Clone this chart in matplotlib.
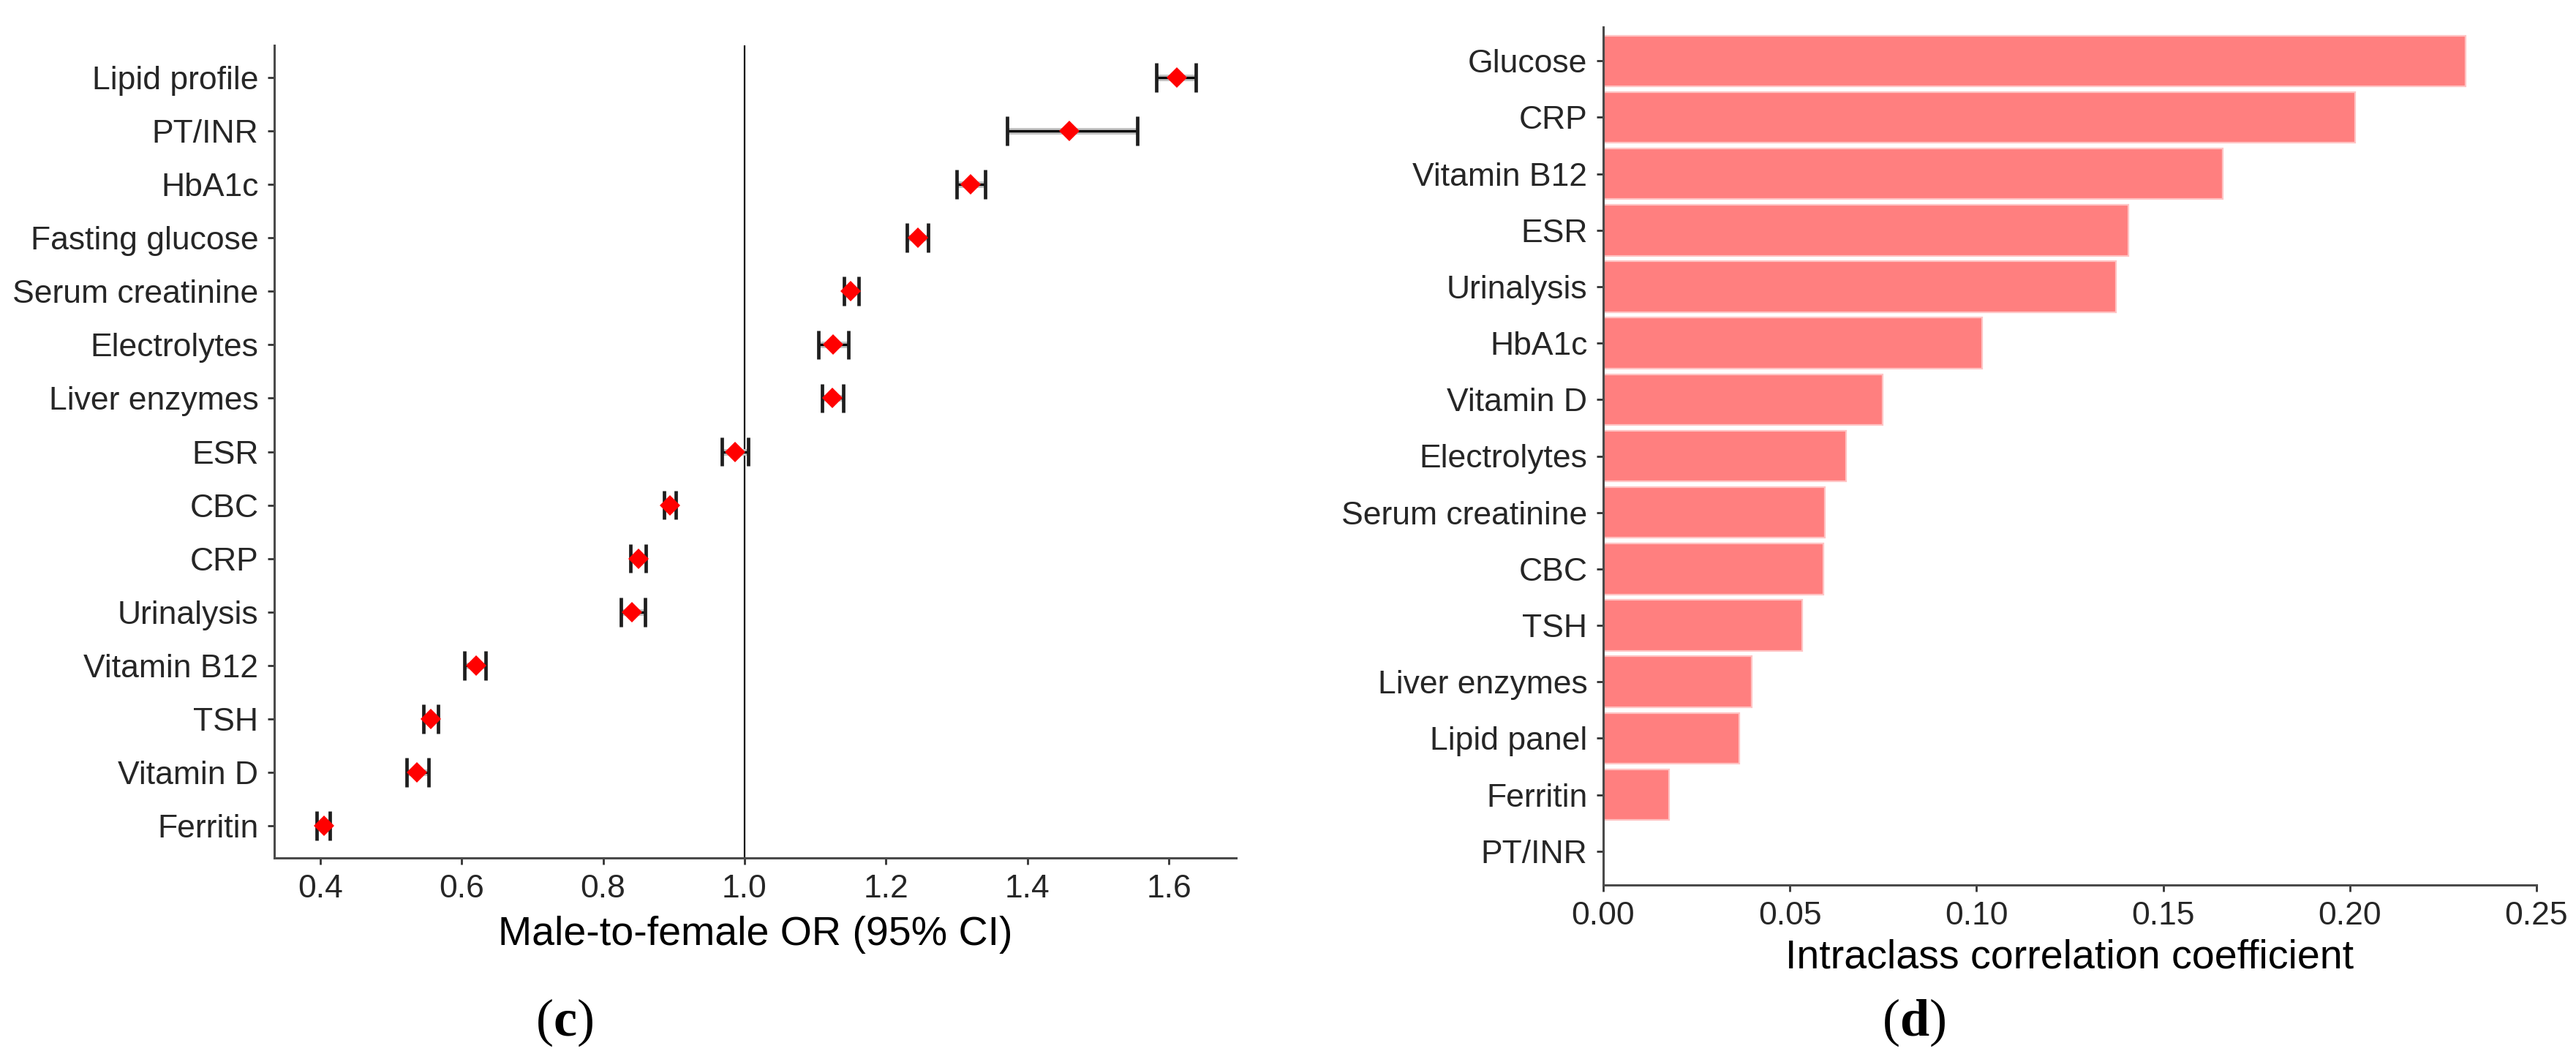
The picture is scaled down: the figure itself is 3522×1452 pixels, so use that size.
import matplotlib
matplotlib.use("Agg")
import matplotlib.pyplot as plt
import numpy as np

# ---- Panel (c): male-to-female odds ratios (top to bottom) ----
or_tests = ["Lipid profile", "PT/INR", "HbA1c", "Fasting glucose", "Serum creatinine",
            "Electrolytes", "Liver enzymes", "ESR", "CBC", "CRP", "Urinalysis",
            "Vitamin B12", "TSH", "Vitamin D", "Ferritin"]
or_value = [1.611, 1.459, 1.320, 1.245, 1.150, 1.125, 1.124, 0.987, 0.895, 0.850,
            0.841, 0.620, 0.556, 0.537, 0.405]
or_lower = [1.582, 1.371, 1.300, 1.230, 1.141, 1.104, 1.110, 0.968, 0.886, 0.839,
            0.825, 0.604, 0.546, 0.522, 0.395]
or_upper = [1.638, 1.555, 1.340, 1.260, 1.161, 1.147, 1.140, 1.005, 0.903, 0.860,
            0.859, 0.634, 0.567, 0.553, 0.414]
or_ticks = [0.4, 0.6, 0.8, 1.0, 1.2, 1.4, 1.6]

# ---- Panel (d): intraclass correlation coefficients (top to bottom) ----
icc_tests = ["Glucose", "CRP", "Vitamin B12", "ESR", "Urinalysis", "HbA1c", "Vitamin D",
             "Electrolytes", "Serum creatinine", "CBC", "TSH", "Liver enzymes",
             "Lipid panel", "Ferritin", "PT/INR"]
icc_value = [0.231, 0.2014, 0.166, 0.1406, 0.1373, 0.1015, 0.0749, 0.065, 0.0594,
             0.0589, 0.0533, 0.0397, 0.0365, 0.0177, 0.0]
icc_ticks = [0.00, 0.05, 0.10, 0.15, 0.20, 0.25]

plt.rcParams['font.family'] = ['Liberation Sans', 'DejaVu Sans']
plt.rcParams['mathtext.fontset'] = 'custom'
plt.rcParams['mathtext.rm'] = 'Liberation Serif'
plt.rcParams['mathtext.bf'] = 'Liberation Serif:bold'

W, H = 3522, 1452
fig = plt.figure(figsize=(W / 100, H / 100), dpi=100)

def frac(l, r, t, b):
    return [l / W, (H - b) / H, (r - l) / W, (b - t) / H]

tick_color = "#262626"
spine_color = "#4a4a4a"

def style(ax):
    for s in ["top", "right"]:
        ax.spines[s].set_visible(False)
    for s in ["left", "bottom"]:
        ax.spines[s].set_color(spine_color)
        ax.spines[s].set_linewidth(2.2)
    ax.tick_params(axis="both", length=6.5, width=2.0, color="#333333",
                   labelsize=32, labelcolor=tick_color, pad=9)

# ---- left panel ----
ax1 = fig.add_axes(frac(375, 1690, 62, 1173))
n1 = len(or_tests)
y1 = np.arange(n1)[::-1]
vals = np.array(or_value)
lows = np.array(or_lower)
highs = np.array(or_upper)
ax1.axvline(1.0, color="#111111", lw=1.6, zorder=1)
# grey CI band with black core line
ax1.hlines(y1, lows, highs, color="#C4C4C4", lw=6.5, zorder=2)
ax1.hlines(y1, lows, highs, color="black", lw=2.4, zorder=3)
# caps
cap = 0.27
ax1.vlines(lows, y1 - cap, y1 + cap, color="#1e1e1e", lw=3.4, zorder=3)
ax1.vlines(highs, y1 - cap, y1 + cap, color="#1e1e1e", lw=3.4, zorder=3)
ax1.plot(vals, y1, linestyle="none", marker="D", ms=14.0, mfc="#FF0000",
         mec="#FF0000", mew=0, zorder=4)
ax1.set_yticks(y1)
ax1.set_yticklabels(or_tests)
ax1.set_ylim(-0.6, n1 - 1 + 0.6)
ax1.set_xlim(0.335, 1.695)
ax1.set_xticks(or_ticks)
ax1.set_xticklabels([f"{t:.1f}" for t in or_ticks])
ax1.set_xlabel("Male-to-female OR (95% CI)", fontsize=40, color="black", labelpad=12)
style(ax1)

# ---- right panel ----
ax2 = fig.add_axes(frac(2192, 3468, 37, 1210))
n2 = len(icc_tests)
y2 = np.arange(n2)[::-1]
ax2.barh(y2, icc_value, height=0.9, color="#FF7F7F", edgecolor="#FFC4C4",
         linewidth=1.6, zorder=2)
ax2.set_yticks(y2)
ax2.set_yticklabels(icc_tests)
ax2.set_ylim(-0.6, n2 - 1 + 0.6)
ax2.set_xlim(0, 0.25)
ax2.set_xticks(icc_ticks)
ax2.set_xticklabels([f"{t:.2f}" for t in icc_ticks])
ax2.set_xlabel("Intraclass correlation coefficient", fontsize=40, color="black", labelpad=8)
style(ax2)

# ---- panel letters: regular parentheses, bold letter ----
for xc, letter in [(772, "c"), (2617, "d")]:
    fig.text(xc / W, 1 - 1398 / H, "(" + r"$\mathbf{" + letter + "}$" + ")",
             fontsize=52, ha="center", va="center",
             family=["Liberation Serif", "DejaVu Serif"])

fig.savefig("out.png", dpi=100, facecolor="white")
